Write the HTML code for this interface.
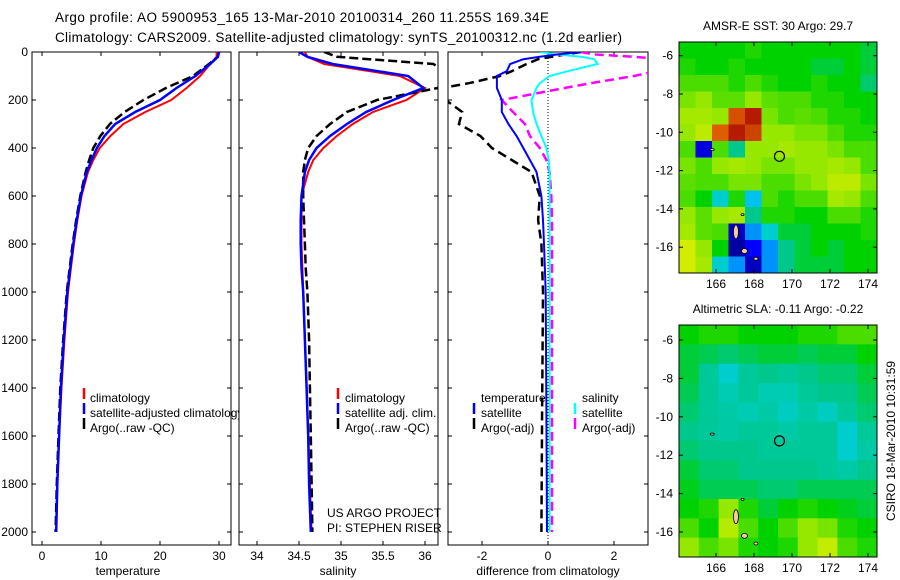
<!DOCTYPE html>
<html><head><meta charset="utf-8">
<style>
html,body{margin:0;padding:0;background:#fff;}
svg{display:block;font-family:"Liberation Sans",sans-serif;}
text{font-size:12px;fill:#000;}
</style></head>
<body>
<svg id="chart" width="900" height="580" viewBox="0 0 900 580">
<defs>
<clipPath id="c1"><rect x="32" y="52" width="199" height="493"/></clipPath>
<clipPath id="c2"><rect x="239" y="52" width="199" height="493"/></clipPath>
<clipPath id="c3"><rect x="448" y="52" width="200" height="493"/></clipPath>
<clipPath id="cl1"><rect x="0" y="0" width="239" height="580"/></clipPath>
</defs>
<text x="55" y="22" style="font-size:13.5px" textLength="494">Argo profile: AO 5900953_165 13-Mar-2010 20100314_260 11.255S 169.34E</text>
<text x="55" y="42" style="font-size:13.5px" textLength="567">Climatology: CARS2009. Satellite-adjusted climatology: synTS_20100312.nc (1.2d earlier)</text>
<g id="g"></g>
</svg>
<script>
// ---- data ----
const depthLevels=[0,20,50,100,150,200,250,300,350,400,450,500,600,700,800,900,1000,1200,1400,1600,1800,2000];
const tempClim=[29.6,29.6,28.5,26.8,24.5,21.9,17.5,13.8,11.6,9.8,8.7,7.8,6.7,6.0,5.4,4.9,4.4,3.8,3.3,2.9,2.6,2.4];
const tempSat=[30.0,29.8,28.5,26.0,22.8,20.0,15.8,12.4,10.6,9.3,8.4,7.6,6.6,5.9,5.3,4.8,4.3,3.7,3.2,2.9,2.6,2.4];
const tempArgo=[30.0,29.8,28.3,25.6,21.0,17.2,14.0,11.5,9.9,8.7,8.0,7.4,6.5,5.8,5.2,4.7,4.2,3.6,3.1,2.8,2.5,2.3];
const salClim=[34.57,34.6,34.8,35.7,36.0,35.78,35.38,35.14,34.95,34.79,34.67,34.61,34.53,34.53,34.53,34.54,34.55,34.57,34.59,34.61,34.63,34.65];
const salSat=[34.5,34.6,34.9,35.8,35.98,35.62,35.3,35.07,34.87,34.71,34.62,34.57,34.53,34.52,34.52,34.53,34.55,34.57,34.59,34.61,34.62,34.64];
const salArgo=[34.8,34.95,36.1,36.3,36.15,35.43,35.07,34.87,34.71,34.61,34.57,34.55,34.55,34.56,34.57,34.58,34.6,34.62,34.63,34.64,34.65,34.66];
const diffDepths=[0,10,20,30,50,80,100,130,150,200,250,300,350,400,450,500,600,700,800,1000,1500,2000];
const dTempSat=[1.0,0.3,-0.25,-0.75,-1.15,-1.25,-1.55,-1.55,-1.55,-1.4,-1.4,-1.2,-0.95,-0.75,-0.55,-0.35,-0.2,-0.15,-0.12,-0.07,-0.05,-0.03];
const dTempArgo=[1.0,0.55,0.1,-0.3,-0.65,-1.1,-1.45,-2.4,-3.2,-3.1,-2.6,-2.7,-2.05,-1.7,-1.1,-0.5,-0.25,-0.3,-0.2,-0.15,-0.18,-0.2];
const dSalSat=[-0.25,0.25,1.0,1.4,1.5,0.6,0.05,-0.25,-0.35,-0.5,-0.45,-0.35,-0.2,-0.05,0.02,0.05,0.05,0.05,0.05,0.05,0.05,0.05];
const dSalArgo=[1.0,1.4,2.6,3.5,4.0,3.3,2.6,1.3,0.5,-1.4,-1.06,-0.7,-0.55,-0.25,-0.05,0.05,0.1,0.12,0.12,0.12,0.12,0.12];
const depthTicks=[0,200,400,600,800,1000,1200,1400,1600,1800,2000];
const tempTicks=[0,10,20,30];
const salTicks=[34,34.5,35,35.5,36];
const diffTicks=[-2,0,2];
const lonTicks=[166,168,170,172,174];
const latTicks=[-6,-8,-10,-12,-14,-16];
const sstGrid=[
[.5,.5,.5,.5,.52,.5,.5,.5,.5,.5,.5,.48],
[.52,.5,.5,.52,.5,.5,.5,.5,.48,.48,.5,.48],
[.55,.55,.55,.52,.55,.52,.5,.5,.52,.5,.5,.46],
[.58,.6,.56,.56,.6,.56,.55,.55,.52,.52,.5,.5],
[.62,.62,.6,.88,.96,.58,.55,.56,.55,.52,.52,.5],
[.6,.65,.86,.96,.9,.6,.6,.58,.58,.55,.52,.52],
[.55,.15,.55,.45,.6,.6,.62,.6,.6,.58,.55,.55],
[.58,.55,.6,.62,.6,.58,.58,.6,.6,.62,.6,.55],
[.56,.55,.55,.58,.58,.55,.55,.58,.6,.65,.65,.58],
[.55,.5,.4,.52,.35,.55,.52,.55,.55,.62,.6,.55],
[.6,.56,.6,.62,.45,.52,.52,.5,.5,.55,.55,.52],
[.62,.56,.55,.1,.3,.4,.48,.48,.5,.5,.5,.52],
[.68,.6,.5,.05,.2,.3,.45,.48,.5,.48,.5,.5],
[.68,.62,.4,.3,.1,.3,.45,.48,.48,.48,.5,.5]];
const slaGrid=[
[.5,.52,.52,.5,.5,.5,.52,.52,.55,.55],
[.48,.47,.46,.47,.48,.48,.47,.48,.48,.5],
[.48,.44,.4,.44,.45,.44,.45,.46,.46,.48],
[.47,.44,.42,.44,.42,.42,.44,.45,.45,.47],
[.46,.44,.43,.42,.43,.41,.43,.41,.44,.46],
[.45,.44,.43,.44,.44,.43,.44,.44,.4,.44],
[.46,.45,.45,.45,.44,.44,.44,.44,.4,.43],
[.48,.46,.46,.45,.45,.45,.45,.44,.43,.45],
[.49,.47,.47,.47,.46,.46,.47,.47,.47,.47],
[.5,.52,.6,.52,.48,.5,.52,.5,.49,.48],
[.55,.5,.64,.55,.5,.55,.6,.58,.52,.5],
[.6,.55,.58,.52,.5,.52,.6,.66,.55,.52]];
const argoLon=169.34, argoLat=-11.255;

const NS="http://www.w3.org/2000/svg";
const G=document.getElementById('g');
function mk(tag,attrs,parent){const e=document.createElementNS(NS,tag);for(const k in attrs)e.setAttribute(k,attrs[k]);(parent||G).appendChild(e);return e;}
const yD=d=>52+d*0.24;
const axTop=52,axBot=545;

function axisBox(x0,x1,name){
  const r=mk('rect',{x:x0,y:axTop,width:x1-x0,height:axBot-axTop,fill:'#fff',stroke:'#000','stroke-width':1});
  
  
}
function depthTickMarks(x0,x1,labels){
  depthTicks.forEach(d=>{
    const y=yD(d);
    mk('line',{x1:x0,x2:x0+4,y1:y,y2:y,stroke:'#000'});
    mk('line',{x1:x1-4,x2:x1,y1:y,y2:y,stroke:'#000'});
    if(labels){const t=mk('text',{x:x0-4,y:y+4,'text-anchor':'end'});t.textContent=d;
      
      }
  });
}
function xTicks(ticks,fx,name){
  ticks.forEach(v=>{const x=fx(v);
    mk('line',{x1:x,x2:x,y1:axBot,y2:axBot-4,stroke:'#000'});
    mk('line',{x1:x,x2:x,y1:axTop,y2:axTop+4,stroke:'#000'});
    const t=mk('text',{x:x,y:axBot+15,'text-anchor':'middle'});t.textContent=v;
    
    
  });
}
function line(xs,ys,fx,fy,color,w,dash,clip,name){
  const pts=xs.map((v,i)=>fx(v).toFixed(1)+','+fy(ys[i]).toFixed(1)).join(' ');
  const p=mk('polyline',{points:pts,fill:'none',stroke:color,'stroke-width':w,'clip-path':'url(#'+clip+')'});
  if(dash)p.setAttribute('stroke-dasharray',dash);
  
  
}
function label(x,y,s,name,anchor){const t=mk('text',{x:x,y:y,'text-anchor':anchor||'start'});t.textContent=s;
  
  return t;}
function legMark(x,y,c,name){const l=mk('line',{x1:x,x2:x,y1:y-10,y2:y+1,stroke:c,'stroke-width':2.5});
  
  }

// panel 1 temperature
const fT=v=>42+v*5.9;
axisBox(32,231,'temperature-axes');
depthTickMarks(32,231,true);
xTicks(tempTicks,fT,'temperature-tick-label');
line(tempClim,depthLevels,fT,yD,'#ff0000',2,null,'c1','temp-climatology-line');
line(tempArgo,depthLevels,fT,yD,'#000',2.5,'9,4','c1','temp-argo-line');
line(tempSat,depthLevels,fT,yD,'#0000ff',2.5,null,'c1','temp-satellite-line');
label(128,575,'temperature','x-axis-title-temperature','middle');
// panel 2 salinity
const fS=v=>299+(v-34.5)*84;
axisBox(239,438,'salinity-axes');
depthTickMarks(239,438,false);
xTicks(salTicks,fS,'salinity-tick-label');
line(salClim,depthLevels,fS,yD,'#ff0000',2,null,'c2','sal-climatology-line');
line(salArgo,depthLevels,fS,yD,'#000',2.5,'9,4','c2','sal-argo-line');
line(salSat,depthLevels,fS,yD,'#0000ff',2.5,null,'c2','sal-satellite-line');
label(338,575,'salinity','x-axis-title-salinity','middle');
legMark(84,398,'#ff0000','legend-marker-climatology');
legMark(84,413,'#0000ff','legend-marker-satellite');
legMark(84,428,'#000','legend-marker-argo');
label(90,402,'climatology','legend-climatology');
const lt=label(90,417,'satellite-adjusted climatology','legend-satellite-adjusted');lt.setAttribute('clip-path','url(#cl1)');
label(90,432,'Argo(..raw -QC)','legend-argo-raw');
legMark(338,398,'#ff0000','legend2-marker-climatology');
legMark(338,413,'#0000ff','legend2-marker-satellite');
legMark(338,428,'#000','legend2-marker-argo');
label(345,402,'climatology','legend2-climatology');
label(345,417,'satellite adj. clim.','legend2-satellite');
label(345,432,'Argo(..raw -QC)','legend2-argo');
label(327,517,'US ARGO PROJECT','project-label');
label(327,532,'PI: STEPHEN RISER','pi-label');
// panel 3 differences
const fDf=v=>548+v*33;
axisBox(448,648,'difference-axes');
depthTickMarks(448,648,false);
xTicks(diffTicks,fDf,'difference-tick-label');
const zl=mk('line',{x1:548,x2:548,y1:axTop,y2:axBot,stroke:'#000','stroke-dasharray':'1,2'});


line(dTempArgo,diffDepths,fDf,yD,'#000',2.5,'9,5','c3','diff-temp-argo-line');
line(dSalArgo,diffDepths,fDf,yD,'#ff00ff',2.5,'9,5','c3','diff-sal-argo-line');
line(dSalSat,diffDepths,fDf,yD,'#00ffff',2,null,'c3','diff-sal-satellite-line');
line(dTempSat,diffDepths,fDf,yD,'#0000ff',2,null,'c3','diff-temp-satellite-line');
label(548,575,'difference from climatology','x-axis-title-difference','middle');
label(481,402,'temperature','legend3-temperature-header');
label(582,402,'salinity','legend3-salinity-header');
legMark(474,413,'#0000ff','legend3-marker-temp-sat');
legMark(474,428,'#000','legend3-marker-temp-argo');
legMark(575,413,'#00ffff','legend3-marker-sal-sat');
legMark(575,428,'#ff00ff','legend3-marker-sal-argo');
label(481,417,'satellite','legend3-temp-satellite');
label(481,432,'Argo(-adj)','legend3-temp-argo');
label(582,417,'satellite','legend3-sal-satellite');
label(582,432,'Argo(-adj)','legend3-sal-argo');

// maps
const stops=[[0,[0,0,128]],[0.2,[0,0,255]],[0.33,[0,190,255]],[0.4,[0,205,205]],[0.45,[0,200,140]],[0.5,[0,210,0]],[0.6,[150,232,0]],[0.72,[240,240,0]],[0.85,[225,100,0]],[1,[165,0,0]]];
function cmap(v){for(let i=1;i<stops.length;i++){if(v<=stops[i][0]){const a=stops[i-1],b=stops[i],t=(v-a[0])/(b[0]-a[0]);
  return 'rgb('+a[1].map((c,k)=>Math.round(c+(b[1][k]-c)*t)).join(',')+')';}}return 'rgb(165,0,0)';}
const fLon=v=>716+(v-166)*19;
function drawMap(grid,y0,y1,latY,title,name){
  const x0=679,x1=877,w=(x1-x0)/grid[0].length,h=(y1-y0)/grid.length;
  grid.forEach((row,r)=>row.forEach((v,c)=>{
    const cell=mk('rect',{x:(x0+c*w).toFixed(2),y:(y0+r*h).toFixed(2),width:(w+0.5).toFixed(2),height:(h+0.5).toFixed(2),fill:cmap(v)});
    
    
  }));
  [[167.05,-15.2,2.5,7],[167.5,-16.2,3,2.5],[165.8,-10.9,2,1],[168.1,-16.6,2,1.5],[167.4,-14.3,1.5,1]].forEach(p=>{
    const e=mk('ellipse',{cx:fLon(p[0]),cy:latY(p[1]),rx:p[2],ry:p[3],fill:'#f8c8a0',stroke:'#000','stroke-width':0.8});
    
    
  });
  const b=mk('rect',{x:x0,y:y0,width:x1-x0,height:y1-y0,fill:'none',stroke:'#000'});
  
  
  lonTicks.forEach(v=>{const x=fLon(v);mk('line',{x1:x,x2:x,y1:y1,y2:y1-4,stroke:'#000'});mk('line',{x1:x,x2:x,y1:y0,y2:y0+4,stroke:'#000'});
    label(x,y1+15,v,name+'-lon-label','middle');});
  latTicks.forEach(v=>{const y=latY(v);mk('line',{x1:x0,x2:x0+4,y1:y,y2:y,stroke:'#000'});mk('line',{x1:x1-4,x2:x1,y1:y,y2:y,stroke:'#000'});
    label(x0-6,y+4,v,name+'-lat-label','end');});
  const c=mk('circle',{cx:fLon(argoLon),cy:latY(argoLat),r:5,fill:'none',stroke:'#000','stroke-width':1.2});
  
  
  label((x0+x1)/2,y0-12,title,name+'-title','middle');
}
drawMap(sstGrid,42,273,v=>55.7+(-6-v)*19.15,'AMSR-E SST: 30 Argo: 29.7','sst-map');
drawMap(slaGrid,325,557,v=>340+(-6-v)*19.2,'Altimetric SLA: -0.11 Argo: -0.22','sla-map');
const vt=label(0,0,'CSIRO 18-Mar-2010 10:31:59','timestamp-label','middle');
vt.setAttribute('transform','translate(895,441) rotate(-90)');
</script>
</body></html>
